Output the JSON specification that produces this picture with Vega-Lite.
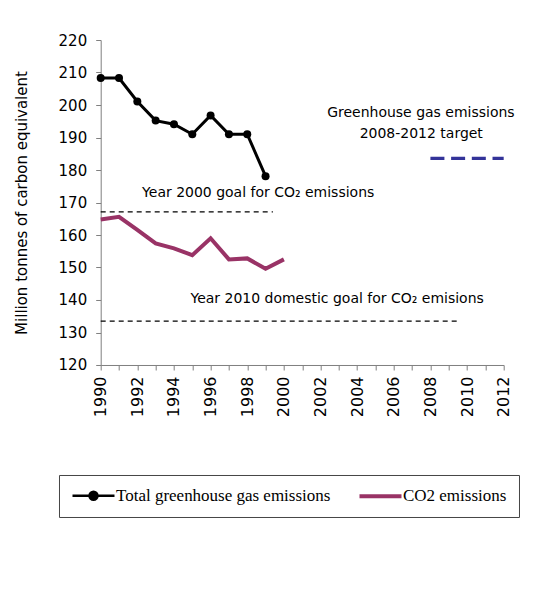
{
  "$schema": "https://vega.github.io/schema/vega-lite/v6.json",
  "width": 403,
  "height": 325,
  "autosize": {"type": "none"},
  "padding": {"left": 100.7, "top": 40, "right": 37, "bottom": 226},
  "background": "white",
  "config": {
    "view": {"stroke": null},
    "font": "DejaVu Sans",
    "axis": {
      "grid": false,
      "domainColor": "#808080",
      "tickColor": "#808080",
      "labelColor": "#000000",
      "titleColor": "#000000",
      "labelFont": "DejaVu Sans",
      "titleFont": "DejaVu Sans",
      "titleFontWeight": "normal",
      "tickSize": 5,
      "labelOverlap": false
    },
    "axisX": {"labelOverlap": false},
    "axisY": {"labelOverlap": false},
    "axisQuantitative": {"labelOverlap": false}
  },
  "datasets": {
    "series": [
      {"series": "Total greenhouse gas emissions", "year": 1990, "value": 208.3},
      {"series": "Total greenhouse gas emissions", "year": 1991, "value": 208.3},
      {"series": "Total greenhouse gas emissions", "year": 1992, "value": 201.1},
      {"series": "Total greenhouse gas emissions", "year": 1993, "value": 195.2},
      {"series": "Total greenhouse gas emissions", "year": 1994, "value": 194.1},
      {"series": "Total greenhouse gas emissions", "year": 1995, "value": 191.0},
      {"series": "Total greenhouse gas emissions", "year": 1996, "value": 196.8},
      {"series": "Total greenhouse gas emissions", "year": 1997, "value": 191.0},
      {"series": "Total greenhouse gas emissions", "year": 1998, "value": 191.0},
      {"series": "Total greenhouse gas emissions", "year": 1999, "value": 178.1},
      {"series": "CO2 emissions", "year": 1990, "value": 164.8},
      {"series": "CO2 emissions", "year": 1991, "value": 165.6},
      {"series": "CO2 emissions", "year": 1992, "value": 161.6},
      {"series": "CO2 emissions", "year": 1993, "value": 157.4},
      {"series": "CO2 emissions", "year": 1994, "value": 155.9},
      {"series": "CO2 emissions", "year": 1995, "value": 153.8},
      {"series": "CO2 emissions", "year": 1996, "value": 159.0},
      {"series": "CO2 emissions", "year": 1997, "value": 152.5},
      {"series": "CO2 emissions", "year": 1998, "value": 152.8},
      {"series": "CO2 emissions", "year": 1999, "value": 149.6},
      {"series": "CO2 emissions", "year": 2000, "value": 152.5}
    ],
    "goals": [
      {"goal": "Year 2000 goal", "year": 1990, "value": 167.1},
      {"goal": "Year 2000 goal", "year": 1999.4, "value": 167.1},
      {"goal": "Year 2010 goal", "year": 1990, "value": 133.5},
      {"goal": "Year 2010 goal", "year": 2009.5, "value": 133.5}
    ],
    "target": [
      {"year": 2008, "value": 183.6},
      {"year": 2012, "value": 183.6}
    ],
    "notesLeft": [
      {"label": "Year 2000 goal for CO₂ emissions", "year": 1992.26, "value": 171.8},
      {"label": "Year 2010 domestic goal for CO₂ emisions", "year": 1994.9, "value": 139.0}
    ],
    "notesCenter": [
      {"label": "Greenhouse gas emissions", "year": 2007.48, "value": 196.2},
      {"label": "2008-2012 target", "year": 2007.5, "value": 189.8}
    ]
  },
  "encoding": {
    "x": {"field": "year", "type": "quantitative", "scale": {"domain": [1990, 2012], "nice": false, "zero": false},
      "axis": {
        "title": null,
        "values": [1990,1991,1992,1993,1994,1995,1996,1997,1998,1999,2000,2001,2002,2003,2004,2005,2006,2007,2008,2009,2010,2011,2012],
        "labelExpr": "datum.value % 2 == 0 ? format(datum.value, 'd') : ''",
        "labelAngle": 270,
        "labelFontSize": 16,
        "labelPadding": 6,
        "labelOverlap": false,
        "labelFlush": false
      }},
    "y": {"field": "value", "type": "quantitative", "scale": {"domain": [120, 220], "nice": false, "zero": false},
      "axis": {
        "title": "Million tonnes of carbon equivalent",
        "values": [120,130,140,150,160,170,180,190,200,210,220],
        "labelFontSize": 15,
        "labelPadding": 9,
        "labelOverlap": false,
        "labelFlush": false,
        "titleFontSize": 15,
        "titlePadding": 29
      }}
  },
  "layer": [
    {
      "data": {"name": "goals"},
      "mark": {"type": "line", "color": "#000000", "strokeWidth": 1.2, "strokeDash": [5, 4]},
      "encoding": {
        "detail": {"field": "goal"}
      }
    },
    {
      "data": {"name": "target"},
      "mark": {"type": "line", "color": "#333399", "strokeWidth": 3.3, "strokeDash": [14, 6.7]},
      "encoding": {}
    },
    {
      "data": {"name": "series"},
      "transform": [{"filter": "datum.series === 'CO2 emissions'"}],
      "mark": {"type": "line", "strokeWidth": 4},
      "encoding": {
        "color": {"field": "series", "type": "nominal",
          "scale": {"domain": ["Total greenhouse gas emissions", "CO2 emissions"], "range": ["#000000", "#993366"]},
          "legend": {
            "title": null,
            "orient": "none",
            "legendX": -41.7,
            "legendY": 435,
            "direction": "horizontal",
            "fillColor": "white",
            "strokeColor": "#444444",
            "padding": 12,
            "columnPadding": 20,
            "labelFont": "Liberation Serif",
            "labelFontSize": 17,
            "labelColor": "#000000",
            "labelLimit": 0,
            "labelOffset": 28,
            "symbolSize": 64,
            "symbolStrokeWidth": 3,
            "encode": {
              "symbols": {
                "update": {
                  "shape": {"signal": "datum.value === 'CO2 emissions' ? 'M-1.75,0H8.75' : 'M-1.75,0H8.75M2.5,0A1,1,0,1,1,4.5,0A1,1,0,1,1,2.5,0Z'"},
                  "fill": {"signal": "datum.value === 'CO2 emissions' ? 'transparent' : '#000000'"},
                  "stroke": {"signal": "datum.value === 'CO2 emissions' ? '#993366' : '#000000'"},
                  "strokeWidth": {"signal": "datum.value === 'CO2 emissions' ? 4 : 2.5"},
                  "opacity": {"value": 1},
                  "fillOpacity": {"value": 1}
                }
              }
            }
          }}
      }
    },
    {
      "data": {"name": "series"},
      "transform": [{"filter": "datum.series === 'Total greenhouse gas emissions'"}],
      "mark": {"type": "line", "strokeWidth": 3},
      "encoding": {
        "color": {"field": "series", "type": "nominal"}
      }
    },
    {
      "data": {"name": "series"},
      "transform": [{"filter": "datum.series === 'Total greenhouse gas emissions'"}],
      "mark": {"type": "point", "filled": true, "size": 64, "opacity": 1},
      "encoding": {
        "color": {"field": "series", "type": "nominal"}
      }
    },
    {
      "data": {"name": "notesLeft"},
      "mark": {"type": "text", "align": "left", "baseline": "alphabetic", "font": "DejaVu Sans", "fontSize": 14, "color": "#000000"},
      "encoding": {
        "text": {"field": "label"}
      }
    },
    {
      "data": {"name": "notesCenter"},
      "mark": {"type": "text", "align": "center", "baseline": "alphabetic", "font": "DejaVu Sans", "fontSize": 14, "color": "#000000"},
      "encoding": {
        "text": {"field": "label"}
      }
    }
  ]
}
